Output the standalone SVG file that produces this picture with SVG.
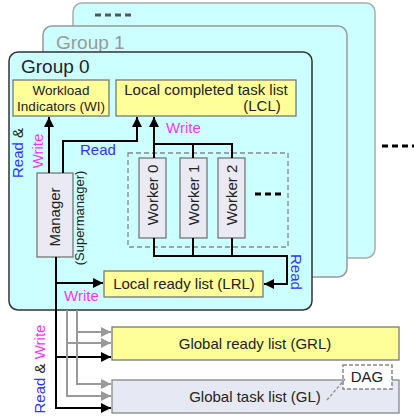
<svg xmlns="http://www.w3.org/2000/svg" width="414" height="417" viewBox="0 0 414 417">
<style>
text{font-family:"Liberation Sans",Arial,sans-serif;fill:#222}
.panel{fill:#ccffff}
.yel{fill:#ffff99;stroke:#777;stroke-width:1.3}
.gry{fill:#eaeaf4;stroke:#777;stroke-width:1.3}
.ln{fill:none;stroke:#000;stroke-width:2}
.gl{fill:none;stroke:#999;stroke-width:2}
.blue{fill:#3333ff}
.mag{fill:#ff33ff}
.t15{font-size:15px}
</style>
<defs>
<marker id="ah" viewBox="0 0 10 10" refX="10" refY="5" markerWidth="5" markerHeight="5" orient="auto" markerUnits="strokeWidth"><path d="M0,0 L10,5 L0,10 z" fill="#000"/></marker>
<marker id="ahg" viewBox="0 0 10 10" refX="10" refY="5" markerWidth="5" markerHeight="5" orient="auto" markerUnits="strokeWidth"><path d="M0,0 L10,5 L0,10 z" fill="#999"/></marker>
</defs>

<g id="group2">
<rect class="panel" x="73" y="3" width="302" height="255" rx="9" stroke="#aaa" stroke-width="1.5"/>
<line x1="95" y1="15" x2="133" y2="15" stroke="#555" stroke-width="3" stroke-dasharray="6,4"/>
</g>
<g id="group1">
<rect class="panel" x="43" y="26" width="304" height="251" rx="9" stroke="#999" stroke-width="1.5"/>
<text x="56" y="49" font-size="19" style="fill:#999">Group 1</text>
</g>
<g id="group0">
<rect class="panel" x="9" y="52" width="303" height="258" rx="9" stroke="#333" stroke-width="1.5"/>
<text x="21" y="73" font-size="19">Group 0</text>
</g>

<g id="WI">
<rect class="yel" x="13" y="80" width="96" height="36"/>
<text x="61" y="95" font-size="13.5" text-anchor="middle">Workload</text>
<text x="61" y="111" font-size="13.5" text-anchor="middle">Indicators (WI)</text>
</g>
<g id="LCL">
<rect class="yel" x="116" y="80" width="180" height="36"/>
<text x="206" y="95" class="t15" text-anchor="middle">Local completed task list</text>
<text x="262" y="111" class="t15" text-anchor="middle">(LCL)</text>
</g>
<g id="workers_box">
<rect x="128" y="153" width="160" height="94" fill="none" stroke="#888" stroke-width="1.3" stroke-dasharray="5,3"/>
<line x1="255" y1="194" x2="282" y2="194" stroke="#000" stroke-width="3" stroke-dasharray="6,4"/>
</g>
<g id="worker0">
<rect class="gry" x="139" y="158" width="27" height="80"/>
<text transform="translate(158,195) rotate(-90)" class="t15" text-anchor="middle">Worker 0</text>
</g>
<g id="worker1">
<rect class="gry" x="180" y="158" width="27" height="80"/>
<text transform="translate(199,195) rotate(-90)" class="t15" text-anchor="middle">Worker 1</text>
</g>
<g id="worker2">
<rect class="gry" x="218" y="158" width="27" height="80"/>
<text transform="translate(237,195) rotate(-90)" class="t15" text-anchor="middle">Worker 2</text>
</g>
<g id="manager">
<rect class="gry" x="37" y="173" width="36" height="84"/>
<text transform="translate(60,217) rotate(-90)" class="t15" text-anchor="middle">Manager</text>
<text transform="translate(84,218) rotate(-90)" font-size="13" text-anchor="middle">(Supermanager)</text>
</g>
<g id="LRL">
<rect class="yel" x="104" y="271" width="159" height="26"/>
<text x="184" y="289" class="t15" text-anchor="middle">Local ready list (LRL)</text>
</g>
<g id="GRL">
<rect class="yel" x="112" y="327" width="287" height="33"/>
<text x="255" y="349" class="t15" text-anchor="middle">Global ready list  (GRL)</text>
</g>
<g id="GL">
<rect x="112" y="380" width="287" height="33" fill="#e6e9f4" stroke="#888" stroke-width="1.3"/>
<text x="255" y="402" class="t15" text-anchor="middle">Global task list (GL)</text>
</g>
<g id="DAG">
<rect x="343" y="365" width="49" height="24" fill="#fff" stroke="#888" stroke-width="1.5" stroke-dasharray="4,2"/>
<text x="367" y="382" class="t15" text-anchor="middle">DAG</text>
</g>

<g id="connectors">
<path class="ln" d="M49,173 V117" marker-end="url(#ah)"/>
<path class="ln" d="M63,173 V141 H137 V117" marker-end="url(#ah)"/>
<path class="ln" d="M154,158 V117" marker-end="url(#ah)"/>
<path class="ln" d="M154,144 H232 V158 M193,144 V158"/>
<path class="ln" d="M154,238 V256 H287 V284 H264" marker-end="url(#ah)"/>
<path class="ln" d="M193,238 V256 M232,238 V256"/>
<path class="ln" d="M56,257 V408 H111" marker-end="url(#ah)"/>
<path class="ln" d="M56,283 H103" marker-end="url(#ah)"/>
<path class="ln" d="M56,357 H111" marker-end="url(#ah)"/>
<path class="gl" d="M77,310 V384 H111" marker-end="url(#ahg)"/>
<path class="gl" d="M77,332 H111" marker-end="url(#ahg)"/>
<path class="gl" d="M67,310 V396 H111" marker-end="url(#ahg)"/>
<path class="gl" d="M67,343 H111" marker-end="url(#ahg)"/>
<path d="M327,400 L345,379" fill="none" stroke="#888" stroke-width="1.3" stroke-dasharray="3,2"/>
<line x1="382" y1="146" x2="414" y2="146" stroke="#000" stroke-width="3" stroke-dasharray="6,4"/>
</g>

<g id="labels">
<text transform="translate(23,153) rotate(-90)" class="t15" text-anchor="middle"><tspan class="blue">Read</tspan> &amp;</text>
<text transform="translate(43,151) rotate(-90)" class="t15 mag" text-anchor="middle">Write</text>
<text x="80" y="155" class="t15 blue">Read</text>
<text x="166" y="133" class="t15 mag">Write</text>
<text x="64" y="301" class="t15 mag">Write</text>
<text transform="translate(291,254) rotate(90)" class="t15 blue">Read</text>
<text transform="translate(45,369) rotate(-90)" class="t15" text-anchor="middle"><tspan class="blue">Read</tspan> &amp; <tspan class="mag">Write</tspan></text>
</g>
</svg>
